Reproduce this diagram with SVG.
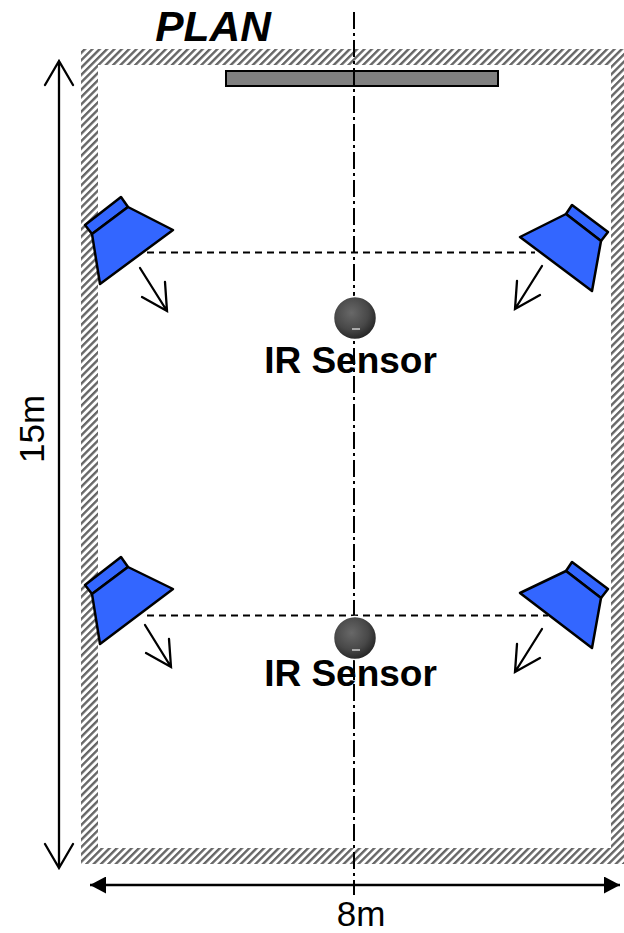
<svg xmlns="http://www.w3.org/2000/svg" width="624" height="933" viewBox="0 0 624 933">
<style>
text{font-family:"Liberation Sans",Arial,sans-serif;fill:#000}
.lbl{font-size:37px;font-weight:bold;text-anchor:middle}
.dim{font-size:35px;text-anchor:middle}
.lamp{fill:#3366ff;stroke:#000;stroke-width:2.5;stroke-linejoin:round}
.ln{fill:none;stroke:#000;stroke-width:2.300;stroke-linecap:round;stroke-linejoin:miter}
.dash{fill:none;stroke:#000;stroke-width:2;stroke-dasharray:7 5}
</style>
<defs>
<pattern id="hatch" width="5.200" height="5.200" patternUnits="userSpaceOnUse" patternTransform="rotate(-45)">
<rect width="5.200" height="5.200" fill="#fff"/>
<rect width="5.200" height="2.400" y="0" fill="#666"/>
</pattern>
<radialGradient id="ball" cx="0.42" cy="0.38" r="0.65">
<stop offset="0" stop-color="#686868"/>
<stop offset="0.6" stop-color="#484848"/>
<stop offset="1" stop-color="#222"/>
</radialGradient>
<marker id="fill" markerUnits="userSpaceOnUse" markerWidth="17" markerHeight="17" refX="16" refY="8.5" orient="auto-start-reverse">
<path d="M0 0L16 8.5L0 17z" fill="#000"/>
</marker>
</defs>
<rect width="624" height="933" fill="#fff"/>
<g id="walls">
<path d="M81 49H624V864H81zM98 65V848H611V65z" fill="url(#hatch)" fill-rule="evenodd"/>
</g>
<g id="screen">
<rect x="226" y="71" width="272" height="15" fill="#808080" stroke="#000" stroke-width="2"/>
</g>
<g id="connectors">
<path d="M354 12V895" fill="none" stroke="#000" stroke-width="2" stroke-dasharray="17 4 3 4"/>
<path class="dash" d="M147 252.500H535"/>
<path class="dash" d="M147 615.500H548"/>
<path class="ln" d="M59 61V868M45 85L59 61L73 85M45 844L59 868L73 844"/>
<path d="M90 885H620" fill="none" stroke="#000" stroke-width="2.300" marker-start="url(#fill)" marker-end="url(#fill)"/>
<path class="ln" d="M140 268L167 311M142 297L167 311L165 282"/>
<path class="ln" d="M145 625L171 667M146 653L171 667L169 639"/>
<path class="ln" d="M542 266L515 309M540 295L515 309L517 281"/>
<path class="ln" d="M542 629L515 672M540 658L515 672L517 644"/>
</g>
<g id="lamp-top-left">
<path class="lamp" d="M85 225L121 197L128 207L92 234z"/>
<path class="lamp" d="M92 234L128 207L173 230L100 284z"/>
</g>
<g id="lamp-top-right">
<path class="lamp" d="M608 232L572 205L566 214L601 241z"/>
<path class="lamp" d="M601 241L566 214L520 237L592 291z"/>
</g>
<g id="lamp-bottom-left">
<path class="lamp" d="M85 585L121 557L128 567L92 594z"/>
<path class="lamp" d="M92 594L128 567L173 589L100 644z"/>
</g>
<g id="lamp-bottom-right">
<path class="lamp" d="M608 589L572 562L566 571L601 598z"/>
<path class="lamp" d="M601 598L566 571L520 593L592 648z"/>
</g>
<g id="sensor-top">
<circle cx="355" cy="318" r="21.500" fill="url(#ball)" stroke="#fff" stroke-width="1.500"/>
<rect x="352" y="328" width="8" height="2" fill="#aaa"/>
<text class="lbl" x="350.500" y="373">IR Sensor</text>
</g>
<g id="sensor-bottom">
<circle cx="355" cy="638" r="21.500" fill="url(#ball)" stroke="#fff" stroke-width="1.500"/>
<rect x="352" y="649" width="8" height="2" fill="#aaa"/>
<text class="lbl" x="350.500" y="686">IR Sensor</text>
</g>
<g id="labels">
<text x="213" y="41" font-size="42.500" font-weight="bold" font-style="italic" text-anchor="middle">PLAN</text>
<text class="dim" transform="translate(44 429) rotate(-90)">15m</text>
<text class="dim" x="361" y="925.500">8m</text>
</g>
</svg>
